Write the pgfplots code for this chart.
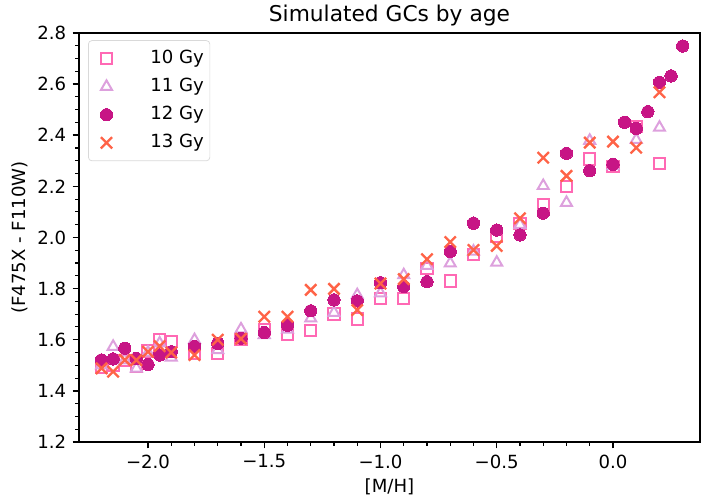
\documentclass[border=0pt]{standalone}
\usepackage{fontspec}
\setmainfont{DejaVu Sans}
\usepackage{pgfplots}
\pgfplotsset{compat=1.18}

\definecolor{ageten}{HTML}{FF69B4}
\definecolor{ageeleven}{HTML}{DDA0DD}
\definecolor{agetwelve}{HTML}{C71585}
\definecolor{agethirteen}{HTML}{FF6347}

\begin{document}
\begin{tikzpicture}
\begin{axis}[
  name=ax, at={(0,0)}, anchor=south west,
  scale only axis, width=342.8pt, height=225.8pt,
  xmin=-2.297, xmax=0.374, ymin=1.2, ymax=2.8,
  xtick={-2,-1.5,-1,-0.5,0},
  xticklabels={−2.0,−1.5,−1.0,−0.5,0.0},
  ytick={1.2,1.4,1.6,1.8,2.0,2.2,2.4,2.6,2.8},
  yticklabels={1.2,1.4,1.6,1.8,2.0,2.2,2.4,2.6,2.8},
  minor x tick num=4, minor y tick num=3,
  tick align=outside, xtick pos=bottom, ytick pos=left,
  major tick length=3.5pt, minor tick length=2pt,
  every tick/.style={black, line width=0.8pt},
  every minor tick/.style={black, line width=0.6pt},
  axis line style={line width=0.8pt},
  tick label style={font=\fontsize{10}{12}\selectfont},
  label style={font=\fontsize{10}{12}\selectfont},
  title style={font=\fontsize{12}{14}\selectfont, at={(axis description cs:0.5,1)}, anchor=center, yshift=3.8pt},
  title={Simulated GCs by age},
  xlabel={[M/H]},
  ylabel={(F475X - F110W)},
  x label style={at={(axis description cs:0.5,0)}, anchor=center, yshift=-24.8pt},
  y label style={at={(axis description cs:0,0.5)}, anchor=center, yshift=32.6pt},
  legend style={at={(axis description cs:0,1)}, anchor=north west, xshift=5pt, yshift=-4pt,
    draw=black!15, rounded corners=2pt, inner xsep=3.3pt, inner ysep=5.3pt,
    font=\fontsize{10}{12}\selectfont, row sep=6.2pt, column sep=20.7pt,
    nodes={inner sep=0pt, text height=7.3pt, text depth=2pt}},
  legend cell align=left,
  legend image code/.code={\path[draw=none, fill=none] (0pt,0pt) -- (10.2pt,0pt); \draw[#1] plot coordinates {(6.7pt,0pt)};},
]

% 10 Gyr models
\addplot[only marks, mark=square, mark size=3.1pt, color=ageten, line width=1.1pt] coordinates {
(-2.2,1.490) (-2.15,1.500) (-2.1,1.520) (-2.05,1.495) (-2.0,1.556) (-1.95,1.600) (-1.9,1.592)
(-1.8,1.548) (-1.7,1.547) (-1.6,1.602) (-1.5,1.640) (-1.4,1.620) (-1.3,1.635) (-1.2,1.701)
(-1.1,1.681) (-1.0,1.762) (-0.9,1.762) (-0.8,1.880) (-0.7,1.830) (-0.6,1.932) (-0.5,2.006)
(-0.4,2.056) (-0.3,2.127) (-0.2,2.199) (-0.1,2.307) (0.0,2.277) (0.1,2.435) (0.2,2.290)
};
\addlegendentry{10 Gy}

% 11 Gyr models
\addplot[only marks, mark=triangle, mark size=3.5pt, color=ageeleven, line width=1.1pt] coordinates {
(-2.2,1.500) (-2.15,1.573) (-2.1,1.520) (-2.05,1.488) (-2.0,1.550) (-1.95,1.586) (-1.9,1.531)
(-1.8,1.599) (-1.7,1.560) (-1.6,1.641) (-1.5,1.619) (-1.4,1.640) (-1.3,1.684) (-1.2,1.706)
(-1.1,1.775) (-1.0,1.782) (-0.9,1.853) (-0.8,1.890) (-0.7,1.899) (-0.6,1.945) (-0.5,1.902)
(-0.4,2.050) (-0.3,2.202) (-0.2,2.136) (-0.1,2.379) (0.0,2.280) (0.1,2.382) (0.2,2.430)
};
\addlegendentry{11 Gy}

% 12 Gyr models
\addplot[only marks, mark=*, mark size=3.4pt, color=agetwelve, line width=0pt] coordinates {
(-2.2,1.521) (-2.15,1.525) (-2.1,1.567) (-2.05,1.527) (-2.0,1.503) (-1.95,1.540) (-1.9,1.553)
(-1.8,1.574) (-1.7,1.586) (-1.6,1.606) (-1.5,1.628) (-1.4,1.657) (-1.3,1.713) (-1.2,1.756)
(-1.1,1.752) (-1.0,1.823) (-0.9,1.808) (-0.8,1.827) (-0.7,1.945) (-0.6,2.056) (-0.5,2.029)
(-0.4,2.010) (-0.3,2.095) (-0.2,2.329) (-0.1,2.261) (0.0,2.286) (0.05,2.451) (0.1,2.427)
(0.15,2.492) (0.2,2.607) (0.25,2.632) (0.3,2.749)
};
\addlegendentry{12 Gy}

% 13 Gyr models
\addplot[only marks, mark=x, mark size=4.4pt, color=agethirteen, line width=1.3pt] coordinates {
(-2.2,1.488) (-2.15,1.475) (-2.1,1.521) (-2.05,1.520) (-2.0,1.553) (-1.95,1.575) (-1.9,1.550)
(-1.8,1.540) (-1.7,1.600) (-1.6,1.604) (-1.5,1.690) (-1.4,1.690) (-1.3,1.795) (-1.2,1.799)
(-1.1,1.716) (-1.0,1.820) (-0.9,1.837) (-0.8,1.915) (-0.7,1.982) (-0.6,1.951) (-0.5,1.967)
(-0.4,2.075) (-0.3,2.312) (-0.2,2.241) (-0.1,2.371) (0.0,2.375) (0.1,2.351) (0.2,2.568)
};
\addlegendentry{13 Gy}

\end{axis}
\pgfresetboundingbox
\path[use as bounding box] (-43.6pt,-31.5pt) rectangle (343.4pt,244pt);
\end{tikzpicture}
\end{document}
